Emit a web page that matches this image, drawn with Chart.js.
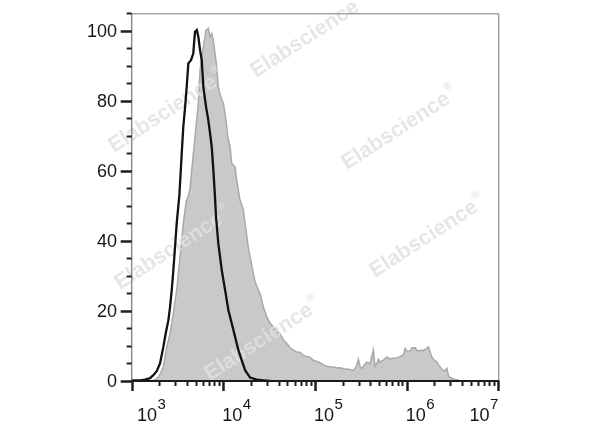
<!DOCTYPE html>
<html>
<head>
<meta charset="utf-8">
<script src="https://cdn.jsdelivr.net/npm/chart.js@4.4.0/dist/chart.umd.min.js"></script>
<style>
  html, body { margin: 0; padding: 0; background: #fff; }
  #wrap { width: 600px; height: 427px; }
</style>
</head>
<body>
<div id="wrap"><canvas id="c" width="600" height="427"></canvas></div>
<script>
// Gray (filled) histogram: x as log10(intensity), y as % of max
const grayExp = [3.200,3.254,3.290,3.320,3.345,3.364,3.382,3.418,3.454,3.491,
  3.527,3.563,3.593,3.618,3.637,3.655,3.691,3.727,3.746,3.782,
  3.811,3.836,3.855,3.873,3.891,3.909,3.928,3.945,3.972,4.000,
  4.029,4.048,4.073,4.092,4.128,4.146,4.182,4.218,4.237,4.273,
  4.310,4.346,4.382,4.401,4.437,4.474,4.510,4.546,4.583,4.619,
  4.655,4.692,4.728,4.764,4.801,4.837,4.873,4.910,4.946,4.983,
  5.020,5.056,5.092,5.129,5.165,5.201,5.238,5.274,5.310,5.347,
  5.383,5.419,5.449,5.474,5.492,5.511,5.528,5.565,5.601,5.637,
  5.655,5.675,5.692,5.710,5.747,5.784,5.820,5.856,5.893,5.929,
  5.965,5.984,6.006,6.038,6.060,6.093,6.115,6.147,6.180,6.202,
  6.238,6.275,6.300,6.330,6.355,6.384,6.410,6.439,6.456,6.475,
  6.511,6.548,6.584];
const grayCount = [0,0.3,1.1,2.5,4,7,9.7,13.5,19.3,26,
  35.4,45,51,53,55,60.2,69.7,79.3,88.8,95.4,
  100.2,100.7,98.3,99.2,97.3,93.5,89.7,84,81.1,79.3,
  74.5,69.7,66.9,62.1,61.1,57.3,51.6,49,45,38,
  33,28.3,26,25,21.1,18.3,16.5,15.4,14.2,13.5,
  11.8,10.7,9.5,8.8,8.3,8.2,7.3,7,6.8,5.9,
  5.6,5.2,4.6,4.2,4,4,3.7,3.8,3.5,3.4,
  3.3,3.0,4,6.2,4,3.6,4.2,5.4,5,8.8,
  4.2,5,6.2,5.4,6,6.9,6.3,6.5,6.6,7,
  7.5,9.3,8.5,8.6,9.5,9.5,8.6,8.8,8.7,9,
  9.8,6.8,6,5.4,4.4,3.4,2.8,3.6,1.5,1.0,
  0.6,0.4,0];

// Black (open) histogram
const blackExp = [3.000,3.091,3.145,3.200,3.233,3.273,3.309,3.345,3.374,3.400,
  3.418,3.437,3.451,3.465,3.491,3.520,3.546,3.563,3.582,3.600,
  3.618,3.647,3.672,3.682,3.691,3.710,3.727,3.746,3.764,3.782,
  3.811,3.836,3.855,3.873,3.891,3.909,3.920,3.945,3.983,4.019,
  4.055,4.092,4.128,4.164,4.201,4.237,4.270,4.291,4.365,4.437,
  4.510];
const blackCount = [0.2,0.2,0.4,0.8,1.6,2.8,5,9.7,14,17.3,
  21,26,30.5,35.4,45,53,65,72.6,78,84,
  90.7,91.6,93.5,97,99.7,100.2,98.3,94.5,91.6,84,
  78.3,74.5,70.7,66.9,60.2,52.5,46.9,39.3,31.6,26,
  20.2,16.4,12.6,8.8,5.9,3.1,1.8,1.0,0.4,0.2,
  0];

// Axis ticks
const xDecades = [3, 4, 5, 6, 7];
const yLabelTicks = [0, 20, 40, 60, 80, 100];
const yMinorStep = 5;
const yMax = 105;
const watermarkText = "Elabscience";

const toPoints = (ex, ys) => ex.map((e, i) => ({ x: Math.pow(10, e), y: ys[i] }));

const FONT = '"Liberation Sans", Arial, sans-serif';

const watermarkSpots = [[256,78],[347,170],[375,278],[114,153],[120,290],[210,381]];

function drawWatermarks(ctx) {
  ctx.save();
  ctx.fillStyle = 'rgba(224,224,224,0.82)';
  watermarkSpots.forEach(([x, y]) => {
    ctx.save();
    ctx.translate(x, y);
    ctx.rotate(-33 * Math.PI / 180);
    ctx.font = 'bold 21.5px ' + FONT;
    ctx.textAlign = 'left';
    ctx.textBaseline = 'alphabetic';
    ctx.fillText(watermarkText, 0, 0);
    const w = ctx.measureText(watermarkText).width;
    ctx.font = 'bold 11px ' + FONT;
    ctx.fillText('®', w + 1.5, -12);
    ctx.restore();
  });
  ctx.restore();
}

const axesPlugin = {
  id: 'flowAxes',
  afterDatasetDraw(chart, args) {
    if (args.index === 1) drawWatermarks(chart.ctx);
  },
  afterDraw(chart) {
    const { ctx, chartArea: a, scales: { x, y } } = chart;
    ctx.save();
    // frame top/right
    ctx.strokeStyle = '#7a7a7a';
    ctx.lineWidth = 1;
    ctx.beginPath();
    ctx.moveTo(a.left, a.top + 0.5); ctx.lineTo(a.right + 0.5, a.top + 0.5);
    ctx.lineTo(a.right + 0.5, a.bottom);
    ctx.stroke();
    // left axis
    ctx.strokeStyle = '#8c8c8c';
    ctx.lineWidth = 1.5;
    ctx.beginPath();
    ctx.moveTo(a.left, a.top); ctx.lineTo(a.left, a.bottom);
    ctx.stroke();
    // bottom axis
    ctx.strokeStyle = '#1a1a1a';
    ctx.lineWidth = 2;
    ctx.beginPath();
    ctx.moveTo(a.left - 1, a.bottom); ctx.lineTo(a.right + 1, a.bottom);
    ctx.stroke();

    // y ticks
    ctx.strokeStyle = '#1e1e1e';
    for (let v = 0; v <= yMax; v += yMinorStep) {
      const py = Math.round(y.getPixelForValue(v)) + 0.5;
      const major = v % 20 === 0;
      ctx.lineWidth = major ? 2.5 : 2;
      ctx.beginPath();
      ctx.moveTo(a.left - (major ? 11 : 5), py);
      ctx.lineTo(a.left, py);
      ctx.stroke();
    }
    ctx.fillStyle = '#161616';
    ctx.font = '18px ' + FONT;
    ctx.textAlign = 'right';
    ctx.textBaseline = 'middle';
    yLabelTicks.forEach(v => {
      ctx.fillText(String(v), 117, y.getPixelForValue(v) + 1);
    });

    // x ticks
    xDecades.forEach((d, di) => {
      const kmax = di === xDecades.length - 1 ? 1 : 9;
      for (let k = 1; k <= kmax; k++) {
        const px = Math.round(x.getPixelForValue(k * Math.pow(10, d))) + 0.5;
        const major = k === 1;
        ctx.lineWidth = major ? 2.5 : 2;
        ctx.beginPath();
        ctx.moveTo(px, a.bottom);
        ctx.lineTo(px, a.bottom + (major ? 10 : 5));
        ctx.stroke();
      }
    });
    // x labels 10^n
    ctx.textAlign = 'left';
    ctx.textBaseline = 'alphabetic';
    xDecades.forEach(d => {
      const px = x.getPixelForValue(Math.pow(10, d));
      ctx.font = '18px ' + FONT;
      const wb = ctx.measureText('10').width;
      ctx.font = '15px ' + FONT;
      const we = ctx.measureText(String(d)).width;
      let left = px - 1;
      left = Math.max(left, 137);
      left = Math.min(left, a.right - (wb + we + 0.5));
      ctx.font = '18px ' + FONT;
      ctx.fillText('10', left, 421);
      ctx.font = '15px ' + FONT;
      ctx.fillText(String(d), left + wb + 0.5, 409);
    });
    ctx.restore();
  }
};

new Chart(document.getElementById('c'), {
  type: 'line',
  data: {
    datasets: [
      {
        label: 'black',
        data: toPoints(blackExp, blackCount),
        borderColor: '#111111',
        borderWidth: 2.3,
        fill: false,
        pointRadius: 0,
        tension: 0
      },
      {
        label: 'gray',
        data: toPoints(grayExp, grayCount),
        borderColor: '#a9a9a9',
        backgroundColor: '#c9c9c9',
        borderWidth: 1.5,
        fill: 'origin',
        pointRadius: 0,
        tension: 0
      }
    ]
  },
  options: {
    responsive: false,
    animation: false,
    layout: { padding: { left: 131.7, right: 101.7, top: 13.3, bottom: 46 } },
    plugins: { legend: { display: false }, tooltip: { enabled: false } },
    scales: {
      x: { type: 'logarithmic', min: 1000, max: 1e7, display: false },
      y: { type: 'linear', min: 0, max: yMax, display: false }
    }
  },
  plugins: [axesPlugin]
});
</script>
</body>
</html>
